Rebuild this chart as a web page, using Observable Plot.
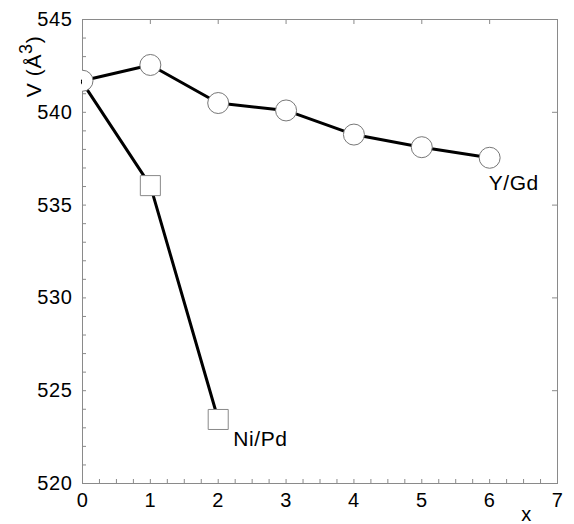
<!DOCTYPE html>
<html>
<head>
<meta charset="utf-8">
<script src="https://cdn.jsdelivr.net/npm/d3@7"></script>
<script src="https://cdn.jsdelivr.net/npm/@observablehq/plot@0.6"></script>
<style>
  html, body { margin: 0; padding: 0; background: #fff; }
  #chart svg { font-family: "Liberation Sans", Arial, sans-serif; }
  #chart svg text { letter-spacing: 0.6px; }
</style>
</head>
<body>
<div id="chart"></div>
<script>
const xYGd = [0, 1, 2, 3, 4, 5, 6];
const vYGd = [541.7, 542.55, 540.5, 540.1, 538.8, 538.12, 537.55];
const xNiPd = [0, 1, 2];
const vNiPd = [541.6, 536.05, 523.45];
const xTicks = [0, 1, 2, 3, 4, 5, 6, 7];
const yTicks = [520, 525, 530, 535, 540, 545];
const seriesNames = ["Y/Gd", "Ni/Pd"];
const yTitle = "V (Å3)";
const xTitle = "x";

const ygd = xYGd.map((x, i) => ({x, v: vYGd[i], s: seriesNames[0]}));
const nipd = xNiPd.map((x, i) => ({x, v: vNiPd[i], s: seriesNames[1]}));

const W = 574, H = 524, mL = 82, mR = 17, mT = 19, mB = 41;
const pw = W - mL - mR, ph = H - mT - mB;
const frameColor = "#8a8a8a";
const minorX = d3.range(0, 7.001, 0.25);
const minorY = d3.range(520, 545.001, 1);

const chart = Plot.plot({
  width: W,
  height: H,
  marginLeft: mL,
  marginRight: mR,
  marginTop: mT,
  marginBottom: mB,
  style: {fontFamily: "Liberation Sans, Arial, sans-serif", background: "#fff"},
  x: {domain: [0, 7]},
  y: {domain: [520, 545]},
  marks: [
    Plot.frame({stroke: frameColor}),
    // inward ticks
    Plot.tickX(minorX, {x: d => d, insetTop: ph - 4, stroke: frameColor}),
    Plot.tickX(xTicks, {x: d => d, insetBottom: ph - 5, stroke: frameColor}),
    Plot.tickY(minorY, {y: d => d, insetRight: pw - 4, stroke: frameColor}),
    Plot.tickY(yTicks, {y: d => d, insetLeft: pw - 5, stroke: frameColor}),
    // tick labels
    Plot.axisX({anchor: "bottom", ticks: xTicks, tickSize: 0, tickPadding: 9, tickFormat: d3.format("d"), fontSize: 20, fill: "#000", label: null}),
    Plot.axisY({anchor: "left", ticks: yTicks, tickSize: 0, tickPadding: 10, tickFormat: d3.format("d"), fontSize: 20, fill: "#000", label: null}),
    // lines
    Plot.line(ygd, {x: "x", y: "v", stroke: "#000", strokeWidth: 3}),
    Plot.line(nipd, {x: "x", y: "v", stroke: "#000", strokeWidth: 3}),
    // markers
    Plot.dot(nipd, {filter: d => d.x > 0, x: "x", y: "v", symbol: "square", r: 11.3, fill: "#fff", stroke: "#888", strokeWidth: 1}),
    Plot.dot(ygd, {x: "x", y: "v", symbol: "circle", r: 10.5, fill: "#fff", stroke: "#777", strokeWidth: 1, clip: true}),
    // series labels
    Plot.text(ygd.slice(-1), {x: "x", y: "v", text: "s", textAnchor: "start", dx: -1, dy: 25, fontSize: 21, fill: "#000"}),
    Plot.text(nipd.slice(-1), {x: "x", y: "v", text: "s", textAnchor: "start", dx: 15, dy: 20, fontSize: 21, fill: "#000"}),
    // axis titles
    Plot.text([yTitle], {frameAnchor: "top-left", text: d => d, rotate: -90, textAnchor: "middle", lineAnchor: "middle", dx: -48, dy: 47, fontSize: 21, fill: "#000", className: "ytitle"}),
    Plot.text([xTitle], {frameAnchor: "bottom-right", text: d => d, textAnchor: "middle", lineAnchor: "middle", dx: -31, dy: 31, fontSize: 20, fill: "#000"})
  ]
});

// render the "3" of Å3 as a raised superscript
const yt = chart.querySelector("g.ytitle text");
if (yt) {
  const txt = yt.textContent;
  const base = txt.slice(0, -2);
  yt.textContent = "";
  const ns = "http://www.w3.org/2000/svg";
  const t1 = document.createElementNS(ns, "tspan"); t1.textContent = base; yt.appendChild(t1);
  const t2 = document.createElementNS(ns, "tspan"); t2.textContent = txt.slice(-2, -1);
  t2.setAttribute("dy", "-9"); t2.setAttribute("font-size", "18"); yt.appendChild(t2);
  const t3 = document.createElementNS(ns, "tspan"); t3.textContent = txt.slice(-1);
  t3.setAttribute("dy", "9"); yt.appendChild(t3);
}

document.getElementById("chart").appendChild(chart);
</script>
</body>
</html>
